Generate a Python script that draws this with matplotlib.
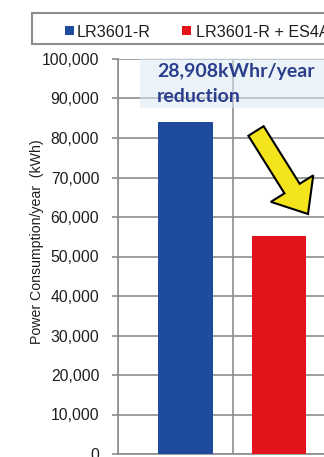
import matplotlib
matplotlib.use("Agg")
import matplotlib.pyplot as plt
import numpy as np
from matplotlib.patches import Rectangle, FancyArrow
from matplotlib.transforms import IdentityTransform
from matplotlib.ticker import FuncFormatter

# Data
series_names = ["LR3601-R", "LR3601-R + ES4A"]
consumption_kwh = [84100, 55192]
reduction_kwh = 28908
y_ticks = list(range(0, 100001, 10000))

BLUE = "#1F4B9E"
RED = "#E3131C"
GRID = "#8C8C8C"
TEXT = "#1E1E1E"
NOTE = "#2A3E8C"

W, H, DPI = 324, 457, 100
plt.rcParams["font.family"] = ["Liberation Sans", "DejaVu Sans"]

fig = plt.figure(figsize=(W / DPI, H / DPI), dpi=DPI)
fig.patch.set_facecolor("white")


def px(x, y):
    """image pixel (top-left origin) -> figure fraction"""
    return x / W, 1 - y / H


ax_left, ax_top, ax_bottom = 118, 59, 454
ax = fig.add_axes([ax_left / W, 1 - ax_bottom / H, 1 - ax_left / W,
                   (ax_bottom - ax_top) / H])
unit = 115.0  # pixels per category

xpos = np.arange(len(consumption_kwh)) + np.array([0.587, 0.404])
ax.bar(xpos, consumption_kwh, width=0.47, color=[BLUE, RED], zorder=3)

ax.set_yticks(y_ticks)
ax.yaxis.set_major_formatter(FuncFormatter(lambda v, p: f"{int(v):,}"))
ax.set_xticks([0, 1, 2])
ax.set_xlim(0, (W - ax_left) / unit)
ax.set_ylim(0, 100000)
ax.tick_params(axis="x", length=0, labelbottom=False)
ax.tick_params(axis="y", length=4.5, width=1.2, color=GRID, pad=9.0,
               labelsize=11.3, labelcolor=TEXT)
ax.grid(True, color=GRID, linewidth=1.2, zorder=0)
for s in ["top", "right"]:
    ax.spines[s].set_visible(False)
for s in ["left", "bottom"]:
    ax.spines[s].set_color(GRID)
    ax.spines[s].set_linewidth(1.2)

fig.text(*px(37, 242), "Power Consumption/year  (kWh)", rotation=90,
         ha="center", va="center", fontsize=10.2, color=TEXT)

# Legend box
lx0, ly0, ly1 = 32, 13, 44
fig.patches.append(Rectangle(px(lx0, ly1), (W - lx0 + 5) / W, (ly1 - ly0) / H,
                             transform=fig.transFigure, facecolor="white",
                             edgecolor=GRID, linewidth=1.5))
for (sx, tx), name, col in zip([(65, 77), (182, 196)], series_names, [BLUE, RED]):
    fig.patches.append(Rectangle(px(sx, 35), 9 / W, 9 / H,
                                 transform=fig.transFigure, facecolor=col,
                                 edgecolor="none"))
    fig.text(*px(tx, 37), name, ha="left", va="baseline", fontsize=11.6,
             color=TEXT)

# Reduction note on a pale panel
fig.patches.append(Rectangle(px(140, 108), (W - 140) / W, 50 / H,
                             transform=fig.transFigure, facecolor="#DCE8F4",
                             edgecolor="none", alpha=0.55, zorder=5))
fig.text(*px(157, 77), f"{reduction_kwh:,}kWhr/year", ha="left",
         va="baseline", fontsize=14, fontweight="bold", color=NOTE,
         family=["Lato", "DejaVu Sans"], zorder=6)
fig.text(*px(157, 102), "reduction", ha="left", va="baseline",
         fontsize=14, fontweight="bold", color=NOTE,
         family=["Lato", "DejaVu Sans"], zorder=6)

# Yellow arrow pointing down to the lower bar
sx, sy, tx, ty = 256, 131, 308, 214
arrow = FancyArrow(sx, H - sy, tx - sx, -(ty - sy), width=18, head_width=50,
                   head_length=30, length_includes_head=True,
                   transform=IdentityTransform(), facecolor="#F4E41C",
                   edgecolor="black", linewidth=1.5, zorder=7)
fig.patches.append(arrow)

fig.savefig("out.png", dpi=DPI, facecolor="white")
